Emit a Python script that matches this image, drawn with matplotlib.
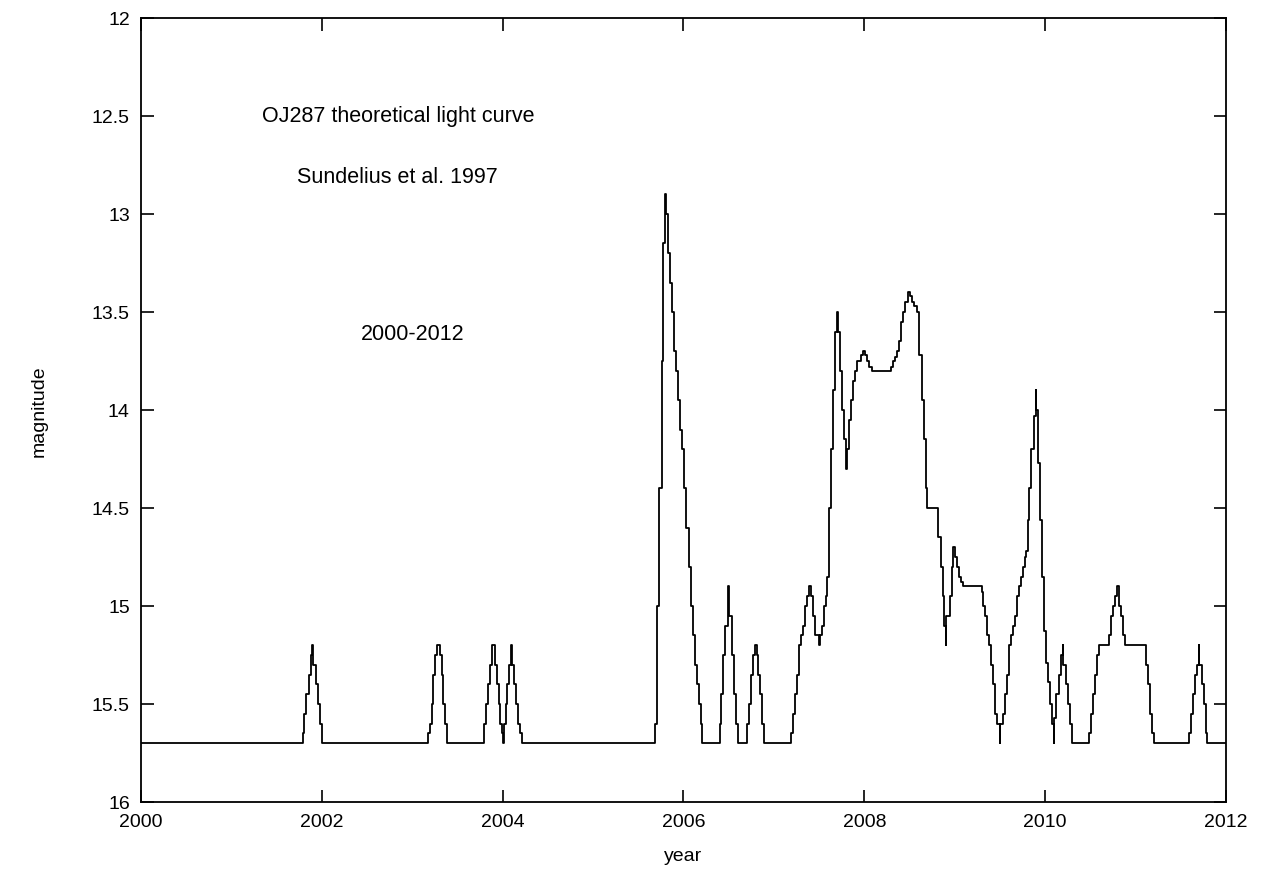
import numpy as np
import matplotlib
matplotlib.use("Agg")
import matplotlib.pyplot as plt


""" Dane: krzywa blasku OJ287, punkty zmiany jasności (schodki) """

# 2000 - 2005: pojedyncze małe rozbłyski
year_a = [2000.0,
          2001.788, 2001.806, 2001.825, 2001.855, 2001.877, 2001.891, 2001.906, 2001.935, 2001.954, 2001.980, 2002.002,
          2003.178, 2003.196, 2003.215, 2003.233, 2003.255, 2003.277, 2003.307, 2003.326, 2003.344, 2003.362, 2003.381,
          2003.793, 2003.815, 2003.838, 2003.860, 2003.882, 2003.915, 2003.934, 2003.956, 2003.974, 2003.992, 2004.000,
          2004.010, 2004.033, 2004.051, 2004.074, 2004.092, 2004.107, 2004.129, 2004.147, 2004.169, 2004.192, 2004.214]
mag_a = [15.7,
         15.65, 15.55, 15.45, 15.35, 15.25, 15.2, 15.3, 15.4, 15.5, 15.6, 15.7,
         15.65, 15.6, 15.5, 15.35, 15.25, 15.2, 15.25, 15.35, 15.5, 15.6, 15.7,
         15.6, 15.5, 15.4, 15.3, 15.2, 15.3, 15.4, 15.5, 15.6, 15.65, 15.7,
         15.6, 15.5, 15.4, 15.3, 15.2, 15.3, 15.4, 15.5, 15.6, 15.65, 15.7]

# 2005.7 - 2007.2: główny rozbłysk i dwa mniejsze
year_b = [2005.685, 2005.710, 2005.732, 2005.762, 2005.777, 2005.799, 2005.805, 2005.829, 2005.850, 2005.873,
          2005.895, 2005.917, 2005.939, 2005.961, 2005.983, 2006.005, 2006.027, 2006.057, 2006.079, 2006.101,
          2006.123, 2006.145, 2006.168, 2006.190, 2006.204,
          2006.400, 2006.420, 2006.440, 2006.459, 2006.492, 2006.498, 2006.536, 2006.558, 2006.580, 2006.602,
          2006.706, 2006.728, 2006.750, 2006.772, 2006.794, 2006.809, 2006.827, 2006.846, 2006.868, 2006.890]
mag_b = [15.6, 15.0, 14.4, 13.75, 13.15, 12.9, 13.0, 13.2, 13.35, 13.5,
         13.7, 13.8, 13.95, 14.1, 14.2, 14.4, 14.6, 14.8, 15.0, 15.15,
         15.3, 15.4, 15.5, 15.6, 15.7,
         15.6, 15.45, 15.25, 15.1, 14.9, 15.05, 15.25, 15.45, 15.6, 15.7,
         15.6, 15.5, 15.35, 15.25, 15.2, 15.25, 15.35, 15.45, 15.6, 15.7]

# 2007.2 - 2009.1: szerokie maksimum
year_c = [2007.185, 2007.207, 2007.229, 2007.252, 2007.274, 2007.296, 2007.318, 2007.340, 2007.362, 2007.384,
          2007.407, 2007.429, 2007.451, 2007.495, 2007.509, 2007.531, 2007.553, 2007.575, 2007.590, 2007.612,
          2007.634, 2007.657, 2007.679, 2007.701, 2007.706, 2007.730, 2007.753, 2007.775, 2007.797, 2007.803,
          2007.834, 2007.856, 2007.878, 2007.900, 2007.922, 2007.966, 2007.988, 2008.010, 2008.033, 2008.055,
          2008.081, 2008.291, 2008.313, 2008.335, 2008.357, 2008.380, 2008.402, 2008.424, 2008.446, 2008.483,
          2008.505, 2008.527, 2008.549, 2008.579, 2008.608, 2008.637, 2008.659, 2008.681, 2008.696, 2008.818,
          2008.843, 2008.866, 2008.884, 2008.900, 2008.908, 2008.947, 2008.969, 2008.984, 2009.006, 2009.028,
          2009.050, 2009.072, 2009.094]
mag_c = [15.65, 15.55, 15.45, 15.35, 15.2, 15.15, 15.1, 15.0, 14.95, 14.9,
         14.95, 15.05, 15.15, 15.2, 15.15, 15.1, 15.0, 14.95, 14.85, 14.5,
         14.2, 13.9, 13.6, 13.5, 13.6, 13.8, 14.0, 14.15, 14.3, 14.2,
         14.05, 13.95, 13.85, 13.8, 13.75, 13.72, 13.7, 13.72, 13.75, 13.78,
         13.8, 13.78, 13.75, 13.73, 13.7, 13.65, 13.55, 13.5, 13.45, 13.4,
         13.42, 13.45, 13.47, 13.5, 13.72, 13.95, 14.15, 14.4, 14.5, 14.65,
         14.8, 14.95, 15.1, 15.2, 15.05, 14.95, 14.8, 14.7, 14.75, 14.8,
         14.85, 14.88, 14.9]

# 2009.3 - 2012: ostatnie rozbłyski
year_d = [2009.297, 2009.315, 2009.337, 2009.360, 2009.382, 2009.404, 2009.426, 2009.448, 2009.470, 2009.495,
          2009.505, 2009.530, 2009.552, 2009.574, 2009.596, 2009.618, 2009.640, 2009.662, 2009.685, 2009.707,
          2009.729, 2009.751, 2009.773, 2009.790, 2009.805, 2009.826, 2009.848, 2009.872, 2009.893, 2009.900,
          2009.915, 2009.940, 2009.962, 2009.984, 2010.005, 2010.028, 2010.054, 2010.076, 2010.094, 2010.100,
          2010.125, 2010.150, 2010.179, 2010.192, 2010.200, 2010.230, 2010.252, 2010.274, 2010.294,
          2010.487, 2010.502, 2010.524, 2010.546, 2010.568, 2010.590, 2010.709, 2010.731, 2010.753, 2010.775,
          2010.797, 2010.815, 2010.842, 2010.864, 2010.886, 2011.114, 2011.136, 2011.158, 2011.180, 2011.202,
          2011.593, 2011.615, 2011.637, 2011.659, 2011.680, 2011.696, 2011.704, 2011.733, 2011.755, 2011.777,
          2011.792, 2012.0]
mag_d = [14.93, 15.0, 15.05, 15.15, 15.2, 15.3, 15.4, 15.55, 15.6, 15.7,
         15.6, 15.55, 15.45, 15.35, 15.2, 15.15, 15.1, 15.05, 14.95, 14.9,
         14.85, 14.8, 14.75, 14.72, 14.56, 14.4, 14.2, 14.03, 13.9, 14.0,
         14.27, 14.56, 14.85, 15.13, 15.29, 15.39, 15.5, 15.6, 15.7, 15.57,
         15.45, 15.35, 15.25, 15.2, 15.3, 15.4, 15.5, 15.6, 15.7,
         15.65, 15.55, 15.45, 15.35, 15.25, 15.2, 15.15, 15.05, 15.0, 14.95,
         14.9, 15.0, 15.05, 15.15, 15.2, 15.3, 15.4, 15.55, 15.65, 15.7,
         15.65, 15.55, 15.45, 15.35, 15.3, 15.2, 15.3, 15.4, 15.5, 15.65,
         15.7, 15.7]

x_ticks = [2000, 2002, 2004, 2006, 2008, 2010, 2012]
y_ticks = [12, 12.5, 13, 13.5, 14, 14.5, 15, 15.5, 16]
y_tick_labels = ["12", "12.5", "13", "13.5", "14", "14.5", "15", "15.5", "16"]


def main():
    plt.rcParams["font.family"] = ["Liberation Sans", "DejaVu Sans"]

    year = np.concatenate([year_a, year_b, year_c, year_d])
    mag = np.concatenate([mag_a, mag_b, mag_c, mag_d])

    fig = plt.figure(figsize=(12.62, 8.79), dpi=100)
    ax = fig.add_axes([0.1117, 0.0865, 0.8598, 0.8919])

    ax.plot(year, mag, color="black", linewidth=1.3, drawstyle="steps-post")

    ax.set_xlim(2000, 2012)
    ax.set_ylim(16, 12)  # skala magnitudo odwrócona
    ax.set_xticks(x_ticks)
    ax.set_yticks(y_ticks)
    ax.set_yticklabels(y_tick_labels)
    ax.tick_params(direction="in", length=9, width=1.2, top=True, right=True,
                   labelsize=14, pad=8, colors="black")
    for sp in ax.spines.values():
        sp.set_linewidth(1.3)

    ax.set_xlabel("year", fontsize=14, labelpad=12)
    ax.set_ylabel("magnitude", fontsize=14, labelpad=32)

    ax.text(2002.84, 12.5, "OJ287 theoretical light curve", fontsize=15.5, ha="center", va="center")
    ax.text(2002.84, 12.81, "Sundelius et al. 1997", fontsize=15.5, ha="center", va="center")
    ax.text(2003.0, 13.61, "2000-2012", fontsize=15.5, ha="center", va="center")

    fig.savefig("out.png", dpi=100)


if __name__ == "__main__":
    main()
